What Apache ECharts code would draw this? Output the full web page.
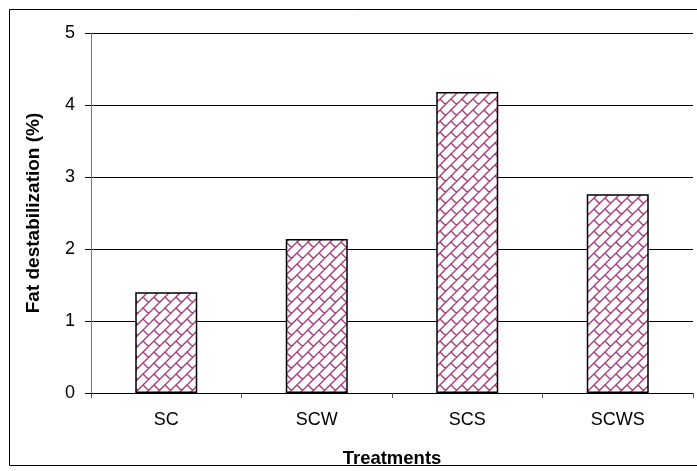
<!DOCTYPE html>
<html>
<head>
<meta charset="utf-8">
<script src="https://cdn.jsdelivr.net/npm/echarts@6/dist/echarts.min.js"></script>
<style>
html,body{margin:0;padding:0;background:#fff;}
#chart{width:697px;height:471px;}
</style>
</head>
<body>
<div id="chart"></div>
<script>
var categories = ['SC', 'SCW', 'SCS', 'SCWS'];
var values = [1.40, 2.14, 4.18, 2.76];
var yTicks = [0, 1, 2, 3, 4, 5];

function brickPattern() {
  var size = 22, step = 11;
  var c = document.createElement('canvas');
  c.width = size; c.height = size;
  var g = c.getContext('2d');
  g.fillStyle = '#ffffff';
  g.fillRect(0, 0, size, size);
  g.strokeStyle = '#a8397a';
  g.lineWidth = 1.4;
  g.lineCap = 'butt';
  g.beginPath();
  for (var k = -2; k <= 6; k++) {
    var s = k * step;
    g.moveTo(s + 30, -30);
    g.lineTo(s - 30, 30);
  }
  for (var k2 = -3; k2 <= 6; k2++) {
    var s0 = k2 * step, s1 = (k2 + 1) * step;
    var off = (((k2 % 2) + 2) % 2) ? step : 0;
    for (var m = -4; m <= 4; m++) {
      var d = m * 2 * step + off;
      g.moveTo((s0 + d) / 2, (s0 - d) / 2);
      g.lineTo((s1 + d) / 2, (s1 - d) / 2);
    }
  }
  g.stroke();
  return c;
}

var chart = echarts.init(document.getElementById('chart'), null, {renderer: 'canvas'});
var fontFam = '"Liberation Sans", Arial, sans-serif';
chart.setOption({
  animation: false,
  backgroundColor: '#ffffff',
  graphic: [{
    type: 'rect',
    shape: {x: 9.5, y: 9.5, width: 700, height: 456},
    style: {fill: 'none', stroke: '#000', lineWidth: 1},
    z: -1
  }],
  grid: {left: 91, top: 33, right: 4, bottom: 78, containLabel: false, outerBoundsMode: 'none'},
  xAxis: {
    type: 'category',
    data: categories,
    name: 'Treatments',
    nameLocation: 'middle',
    nameGap: 56,
    nameTextStyle: {fontFamily: fontFam, fontSize: 18.5, fontWeight: 'bold', color: '#000'},
    axisLine: {lineStyle: {color: '#000', width: 1}},
    axisTick: {show: true, length: 5, lineStyle: {color: '#555'}},
    axisLabel: {fontFamily: fontFam, fontSize: 18, color: '#000', margin: 18},
    splitLine: {show: false}
  },
  yAxis: {
    type: 'value',
    min: 0, max: 5, interval: 1,
    name: 'Fat destabilization (%)',
    nameLocation: 'middle',
    nameGap: 48,
    nameTextStyle: {fontFamily: fontFam, fontSize: 19, fontWeight: 'bold', color: '#000'},
    axisLine: {show: true, lineStyle: {color: '#777', width: 1}},
    axisTick: {show: true, length: 6, lineStyle: {color: '#000'}},
    axisLabel: {fontFamily: fontFam, fontSize: 18, color: '#000', margin: 16,
      formatter: function (v) { return yTicks.indexOf(v) >= 0 ? String(v) : ''; }},
    splitLine: {show: true, lineStyle: {color: '#000', width: 1}}
  },
  series: [{
    type: 'bar',
    data: values,
    barWidth: 62,
    itemStyle: {
      color: {image: brickPattern(), repeat: 'repeat'},
      borderColor: '#000',
      borderWidth: 1.5
    }
  }]
});
</script>
</body>
</html>
